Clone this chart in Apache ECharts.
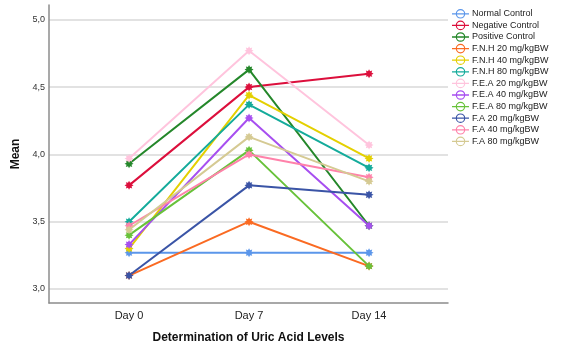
<!DOCTYPE html>
<html lang="en">
<head>
  <meta charset="UTF-8">
  <title>Determination of Uric Acid Levels</title>
  <script src="https://cdn.jsdelivr.net/npm/echarts@6/dist/echarts.min.js"></script>
  <style>
    html, body { margin: 0; padding: 0; background: #ffffff; }
    #chart { width: 562px; height: 354px; }
  </style>
</head>
<body>
  <div id="chart"></div>
  <script>
    // categories and tick labels
    var days = ['Day 0', 'Day 7', 'Day 14'];
    var yTicks = [3.0, 3.5, 4.0, 4.5, 5.0];

    // series values (mean uric acid)
    var normalControl = [3.27, 3.27, 3.27];
    var negativeControl = [3.77, 4.50, 4.60];
    var positiveControl = [3.93, 4.63, 3.47];
    var fnh20 = [3.10, 3.50, 3.17];
    var fnh40 = [3.30, 4.44, 3.97];
    var fnh80 = [3.50, 4.37, 3.90];
    var fea20 = [3.97, 4.77, 4.07];
    var fea40 = [3.33, 4.27, 3.47];
    var fea80 = [3.40, 4.03, 3.17];
    var fa20 = [3.10, 3.77, 3.70];
    var fa40 = [3.47, 4.00, 3.83];
    var fa80 = [3.44, 4.13, 3.80];

    var seriesList = [
      { name: 'Normal Control', data: normalControl, color: '#5b96ea' },
      { name: 'Negative Control', data: negativeControl, color: '#dc0f3c' },
      { name: 'Positive Control', data: positiveControl, color: '#24872a' },
      { name: 'F.N.H 20 mg/kgBW', data: fnh20, color: '#fa6a22' },
      { name: 'F.N.H 40 mg/kgBW', data: fnh40, color: '#e4d000' },
      { name: 'F.N.H 80 mg/kgBW', data: fnh80, color: '#14ab9b' },
      { name: 'F.E.A 20 mg/kgBW', data: fea20, color: '#ffc4dd' },
      { name: 'F.E.A 40 mg/kgBW', data: fea40, color: '#a74ff0' },
      { name: 'F.E.A 80 mg/kgBW', data: fea80, color: '#68c23a' },
      { name: 'F.A 20 mg/kgBW', data: fa20, color: '#3a54a6' },
      { name: 'F.A 40 mg/kgBW', data: fa40, color: '#ff82aa' },
      { name: 'F.A 80 mg/kgBW', data: fa80, color: '#d5ca93' }
    ];

    // little starburst marker like the SPSS one
    function starPath() {
      var pts = [];
      for (var i = 0; i < 16; i++) {
        var r = i % 2 === 0 ? 10 : 6;
        var a = Math.PI * i / 8;
        pts.push((i ? 'L' : 'M') + (r * Math.cos(a)).toFixed(2) + ',' + (r * Math.sin(a)).toFixed(2));
      }
      return 'path://' + pts.join(' ') + ' Z';
    }
    var star = starPath();

    // legend glyph: short line through a hollow circle
    var legendIcon = 'path://M0,4.4 L16,4.4 L16,5.6 L0,5.6 Z ' +
      'M3.5,5 A4.5,4.5 0 1,1 12.5,5 A4.5,4.5 0 1,1 3.5,5 Z ' +
      'M4.6,5 A3.4,3.4 0 1,0 11.4,5 A3.4,3.4 0 1,0 4.6,5 Z';

    var chart = echarts.init(document.getElementById('chart'));
    var font = '"Liberation Sans", Arial, sans-serif';

    var option = {
      animation: false,
      textStyle: { fontFamily: font },
      grid: { left: 49, right: 114, top: 5, bottom: 51 },
      legend: {
        orient: 'vertical',
        left: 447,
        top: 3,
        itemGap: 0,
        itemWidth: 17,
        itemHeight: 10,
        icon: legendIcon,
        textStyle: { fontSize: 9, lineHeight: 11.6, color: '#222', fontFamily: font, padding: [0, 0, 0, -2] },
        data: seriesList.map(function (s) { return s.name; })
      },
      xAxis: {
        type: 'value',
        min: -0.667,
        max: 2.658,
        name: 'Determination of Uric Acid Levels',
        nameLocation: 'middle',
        nameGap: 29,
        nameTextStyle: { fontSize: 12, fontWeight: 'bold', color: '#111', fontFamily: font },
        axisLine: { onZero: false, lineStyle: { color: '#8c8c8c', width: 1.5 } },
        axisTick: { show: false, customValues: [0, 1, 2] },
        splitLine: { show: false },
        axisLabel: {
          customValues: [0, 1, 2],
          formatter: function (v) { return days[Math.round(v)]; },
          fontSize: 11,
          color: '#222',
          margin: 7
        }
      },
      yAxis: {
        type: 'value',
        min: 2.896,
        max: 5.11,
        name: 'Mean',
        nameLocation: 'middle',
        nameGap: 18,
        nameTextStyle: { fontSize: 12, fontWeight: 'bold', color: '#111', fontFamily: font },
        axisLine: { show: true, onZero: false, lineStyle: { color: '#8c8c8c', width: 1.5 } },
        axisTick: { show: false, customValues: yTicks },
        splitLine: { show: true, lineStyle: { color: '#d9d9d9', width: 1.5 } },
        axisLabel: {
          customValues: yTicks,
          formatter: function (v) { return v.toFixed(1).replace('.', ','); },
          fontSize: 9,
          color: '#333',
          margin: 4
        }
      },
      series: seriesList.map(function (s) {
        return {
          name: s.name,
          type: 'line',
          data: s.data.map(function (v, i) { return [i, v]; }),
          symbol: star,
          symbolSize: 9,
          color: s.color,
          lineStyle: { width: 2, color: s.color },
          itemStyle: { color: s.color }
        };
      })
    };

    chart.setOption(option);
  </script>
</body>
</html>
